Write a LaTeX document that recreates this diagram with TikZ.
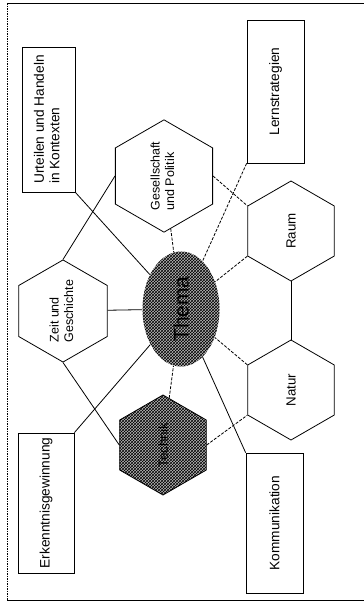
\documentclass[tikz,border=0pt]{standalone}
\usepackage{fontspec}
\setmainfont{Liberation Sans}
\usepackage{graphicx}
\usetikzlibrary{shapes.geometric,patterns}
\begin{document}
\begin{tikzpicture}[x=1pt,y=-1pt,
  line width=0.8pt,
  box/.style={draw, rectangle, inner sep=0pt, font=\fontsize{13.7}{15.5}\selectfont},
  hexa/.style={draw, regular polygon, regular polygon sides=6, shape border rotate=90, minimum size=100pt, inner sep=0pt, font=\fontsize{12.5}{14.5}\selectfont},
  big/.style={font=\fontsize{13.3}{15}\selectfont},
  shaded/.style={preaction={fill=gray!55}, pattern=crosshatch, pattern color=black},
  link/.style={draw, line width=0.8pt},
  dlink/.style={draw, line width=0.8pt, dash pattern=on 3pt off 1.5pt},
  frame/.style={draw, line width=0.9pt}
]
\useasboundingbox (0,0) rectangle (364,613);
% frame
\coordinate (f1) at (364,3);
\coordinate (f2) at (7,3);
\coordinate (f3) at (7,600);
\coordinate (f4) at (364,600);
\draw[frame] (f1) -- (f2);
\draw[frame, dash pattern=on 1.5pt off 1pt] (f2) -- (f3);
\draw[frame] (f3) -- (f4);

% boxes
\node[box, minimum width=53pt, minimum height=145pt] (urteilen) at (48.5,119.5)
  {\rotatebox{90}{\begin{tabular}{@{}l@{}}Urteilen und Handeln\\in Kontexten\end{tabular}}};
\node[box, minimum width=57pt, minimum height=143pt] (lern) at (275.5,91.5)
  {\rotatebox{90}{Lernstrategien}};
\node[box, minimum width=56pt, minimum height=140pt] (erk) at (46,503)
  {\rotatebox{90}{Erkenntnisgewinnung}};
\node[box, minimum width=57pt, minimum height=140pt] (komm) at (274.5,523)
  {\rotatebox{90}{Kommunikation}};

% hexagons
\node[hexa] (ges) at (164,176)
  {\rotatebox{90}{\begin{tabular}{@{}l@{}}Gesellschaft\\und Politik\end{tabular}}};
\node[hexa] (zeit) at (63,311)
  {\rotatebox{90}{\begin{tabular}{@{}l@{}}Zeit und\\Geschichte\end{tabular}}};
\node[hexa, big] (raum) at (291,231) {\rotatebox{90}{Raum}};
\node[hexa, big] (natur) at (291,390) {\rotatebox{90}{Natur}};
\node[hexa, big, shaded] (technik) at (163,445) {\rotatebox{90}{Technik}};

% centre
\node[ellipse, shaded, minimum width=77pt, minimum height=115pt, inner sep=0pt,
  font=\fontsize{21}{25}\selectfont] (thema) at (181,309) {\rotatebox{90}{Thema}};

% connectors
\draw[link] (urteilen.south east) -- (thema);
\draw[link] (ges.180) -- (zeit.90);
\draw[link] (zeit) -- (thema);
\draw[link] (zeit.270) -- (technik.180);
\draw[link] (erk.north east) -- (thema);
\draw[link] (raum.270) -- (natur.90);
\draw[link] (komm.north west) -- (thema);
\draw[dlink] (ges) -- (thema);
\draw[dlink] (technik) -- (thema);
\draw[dlink] (lern.south west) -- (thema);
\draw[dlink] (ges.0) -- (raum.150);
\draw[dlink] (raum.210) -- (thema);
\draw[dlink] (natur.150) -- (thema);
\draw[dlink] (technik.0) -- (natur.210);
\end{tikzpicture}
\end{document}
